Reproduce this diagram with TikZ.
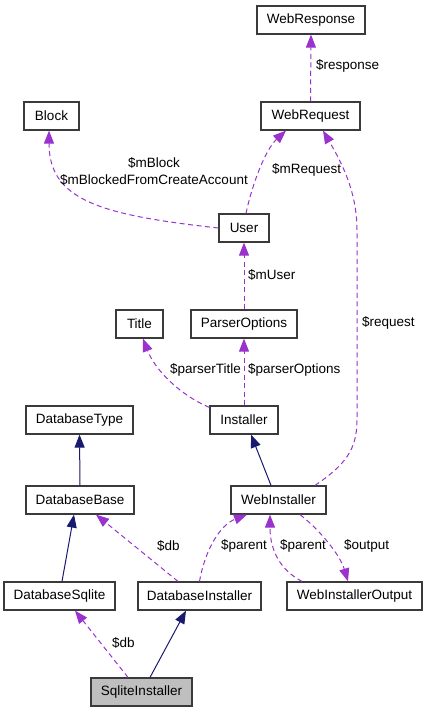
\documentclass[tikz,border=0pt]{standalone}
\usepackage{fontspec}
\setmainfont{Liberation Sans}
\usetikzlibrary{arrows.meta,calc}
\definecolor{orchid}{HTML}{9A32CD}
\definecolor{midnight}{HTML}{191970}
\definecolor{boxline}{HTML}{3A3A3A}
\begin{document}
\begin{tikzpicture}[x=1pt,y=-1pt,
  font=\fontsize{13.5}{17}\selectfont,
  cls/.style={draw=boxline,line width=1.2pt,fill=white,minimum height=28pt,inner sep=0pt},
  dep/.style={draw=orchid,line width=1pt,dash pattern=on 5pt off 3.5pt,-{Triangle[length=13pt,width=10pt]}},
  inh/.style={draw=midnight,line width=1pt,-{Triangle[length=13pt,width=10pt]}},
  lbl/.style={anchor=west,inner sep=0pt}]
\useasboundingbox (0,0) rectangle (427,712);
\node[cls,minimum width=108pt] (WebResponse) at (311,20) {WebResponse};
\node[cls,minimum width=55pt] (Block) at (51.5,116) {Block};
\node[cls,minimum width=99pt] (WebRequest) at (310.5,116) {WebRequest};
\node[cls,minimum width=50pt] (User) at (244,228) {User};
\node[cls,minimum width=47pt] (Title) at (139.5,324) {Title};
\node[cls,minimum width=106pt] (ParserOptions) at (244,324) {ParserOptions};
\node[cls,minimum width=107pt] (DatabaseType) at (79.5,420) {DatabaseType};
\node[cls,minimum width=68pt] (Installer) at (244,420) {Installer};
\node[cls,minimum width=108pt] (DatabaseBase) at (80,500) {DatabaseBase};
\node[cls,minimum width=95pt] (WebInstaller) at (278.5,500) {WebInstaller};
\node[cls,minimum width=111pt] (DatabaseSqlite) at (59.5,596) {DatabaseSqlite};
\node[cls,minimum width=123pt] (DatabaseInstaller) at (199.5,596) {DatabaseInstaller};
\node[cls,minimum width=135pt] (WebInstallerOutput) at (354.5,596) {WebInstallerOutput};
\node[cls,minimum width=101pt,fill=black!25] (SqliteInstaller) at (141.5,692) {SqliteInstaller};
\draw[dep] (WebRequest.north) -- (WebResponse.south);
\draw[dep] (User.west) .. controls (100,215) and (49,200) .. ($(Block.south)+(-2.5,0)$);
\draw[dep] ($(User.north)+(2,0)$) .. controls (252,185) and (265,150) .. ($(WebRequest.south)+(-24.5,0)$);
\draw[dep] (ParserOptions.north) -- (User.south);
\draw[dep] ($(Installer.north west)+(0,2)$) .. controls (180,395) and (155,370) .. ($(Title.south)+(3.5,0)$);
\draw[dep] (Installer.north) -- (ParserOptions.south);
\draw[dep] ($(WebInstaller.north)+(36.5,0)$) .. controls (345,465) and (357,450) .. (357,420) -- (357,230)
  .. controls (357,190) and (340,160) .. ($(WebRequest.south)+(12.5,0)$);
\draw[inh] ($(WebInstaller.north)+(-7.5,0)$) -- ($(Installer.south)+(7,0)$);
\draw[inh] (DatabaseBase.north) -- (DatabaseType.south);
\draw[inh] ($(DatabaseSqlite.north)+(2.5,0)$) -- ($(DatabaseBase.south)+(-6,0)$);
\draw[dep] ($(SqliteInstaller.north)+(-13.5,0)$) -- ($(DatabaseSqlite.south)+(15.5,0)$);
\draw[inh] ($(SqliteInstaller.north)+(8.5,0)$) -- ($(DatabaseInstaller.south)+(-13.5,0)$);
\draw[dep] ($(DatabaseInstaller.north)+(-21.5,0)$) -- ($(DatabaseBase.south)+(16,0)$);
\draw[dep] (DatabaseInstaller.north) .. controls (205,550) and (220,525) .. ($(WebInstaller.south)+(-31.5,0)$);
\draw[dep] ($(WebInstallerOutput.north)+(-52.5,0)$) .. controls (280,570) and (270,550) .. ($(WebInstaller.south)+(-8.5,0)$);
\draw[dep] ($(WebInstaller.south)+(21.5,0)$) .. controls (320,530) and (340,555) .. ($(WebInstallerOutput.north)+(-6.5,0)$);
\node[lbl] (lresponse) at (316,66) {\$response};
\node[align=center,inner sep=0pt] (lblock) at (154,171) {\$mBlock\\\$mBlockedFromCreateAccount};
\node[lbl] (lrequestu) at (272,170) {\$mRequest};
\node[lbl] (luser) at (248,275) {\$mUser};
\node[lbl] (ltitle) at (170,370) {\$parserTitle};
\node[lbl] (lparser) at (248,370) {\$parserOptions};
\node[lbl] (lrequest) at (362,323) {\$request};
\node[lbl] (ldbbase) at (157,546) {\$db};
\node[lbl] (lparenta) at (221,546) {\$parent};
\node[lbl] (lparentb) at (280,546) {\$parent};
\node[lbl] (loutput) at (344,546) {\$output};
\node[lbl] (ldbsqlite) at (112,643) {\$db};
\end{tikzpicture}
\end{document}
